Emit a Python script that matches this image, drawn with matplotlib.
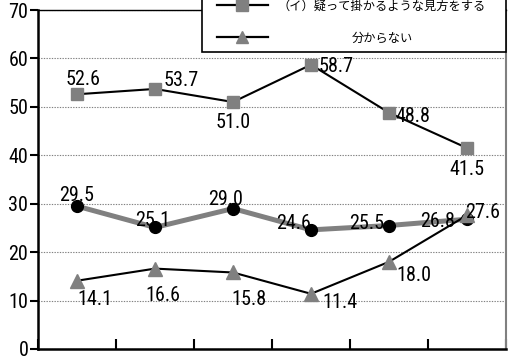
import matplotlib
matplotlib.use("Agg")
import matplotlib.pyplot as plt
from matplotlib import font_manager
from matplotlib.lines import Line2D
from matplotlib.patches import Rectangle
import numpy as np

# the original uses a narrow Arial-like face; take a condensed one if there is one
names = set(f.name for f in font_manager.fontManager.ttflist)
num_font = 'Liberation Sans'
num_size = 13
for cand in ['Liberation Sans Narrow', 'Roboto Condensed', 'Arial Narrow']:
    if cand in names:
        num_font = cand
        num_size = 14.5
        break
plt.rcParams['font.family'] = [num_font, 'Noto Sans CJK JP']

# data (6 survey points, x labels are cut off in the original)
n_points = 6
doubt = [52.6, 53.7, 51.0, 58.7, 48.8, 41.5]        # (イ) squares
other = [29.5, 25.1, 29.0, 24.6, 25.5, 26.8]        # circles, grey thick line
unknown = [14.1, 16.6, 15.8, 11.4, 18.0, 27.6]      # triangles
legend_labels = ['（イ）疑って掛かるような見方をする', '分からない']

# label offsets in pixels (dx, dy)
off_doubt = [(6, 15), (26, 8), (0, -20), (25, -2), (24, -4), (0, -21)]
off_other = [(0, 11), (-2, 7), (-7, 9), (-17, 6), (-22, 2), (-29, -2)]
off_unknown = [(18, -19), (8, -27), (16, -27), (29, -9), (25, -14), (16, 3)]

W, H = 513, 360
fig = plt.figure(figsize=(W / 100, H / 100), dpi=100)
ax = fig.add_axes([38 / W, 11 / H, 468 / W, 339 / H])

x = np.arange(n_points)
grey = '#808080'

ax.plot(x, other, color=grey, lw=3.6, marker='o', ms=8.5,
        mfc='black', mec='black', zorder=3)
ax.plot(x, doubt, color='black', lw=1.5, marker='s', ms=8,
        mfc=grey, mec=grey, zorder=4)
ax.plot(x, unknown, color='black', lw=1.5, marker='^', ms=9.5,
        mfc=grey, mec=grey, zorder=4)

for vals, offs in [(doubt, off_doubt), (other, off_other), (unknown, off_unknown)]:
    for xi, v, (dx, dy) in zip(x, vals, offs):
        ax.annotate('%.1f' % v, (xi, v), xytext=(dx, dy), textcoords='offset pixels',
                    ha='center', va='center', fontsize=num_size, zorder=5)

ax.set_xlim(-0.5, n_points - 0.5)
ax.set_ylim(0, 70)
ax.set_yticks(np.arange(0, 71, 10))
ax.set_xticks(np.arange(-0.5, n_points, 1.0))
ax.set_xticklabels([])
ax.tick_params(axis='y', direction='out', length=6, width=1.5, pad=1, labelsize=num_size)
ax.tick_params(axis='x', direction='in', length=7, width=1.5)

ax.yaxis.grid(True, linestyle=(0, (1.2, 1.2)), color=grey, lw=0.8)
ax.set_axisbelow(True)

ax.spines['left'].set_linewidth(1.8)
ax.spines['bottom'].set_linewidth(1.8)
ax.spines['top'].set_linewidth(1.0)
ax.spines['right'].set_color(grey)
ax.spines['right'].set_linewidth(1.5)

# legend box (top part cut off like in the original)
def fx(px):
    return px / W


def fy(py):
    return (H - py) / H


fig.add_artist(Rectangle((fx(202), fy(52)), fx(506) - fx(202), fy(-20) - fy(52),
                         transform=fig.transFigure, facecolor='white',
                         edgecolor='black', lw=1.2, zorder=10))
rows = [(5, 's'), (37, '^')]
for (ry, mk), lab in zip(rows, legend_labels):
    fig.add_artist(Line2D([fx(217), fx(268)], [fy(ry), fy(ry)], transform=fig.transFigure,
                          color='black', lw=1.6, zorder=11))
    fig.add_artist(Line2D([fx(242)], [fy(ry)], transform=fig.transFigure, marker=mk,
                          ms=8 if mk == 's' else 9, mfc=grey, mec=grey, zorder=12))
    fig.text(fx(382), fy(ry + 1), lab, ha='center', va='center', fontsize=8.8,
             family=['Noto Sans CJK JP', 'DejaVu Sans'], zorder=12)

fig.savefig('out.png', dpi=100)
